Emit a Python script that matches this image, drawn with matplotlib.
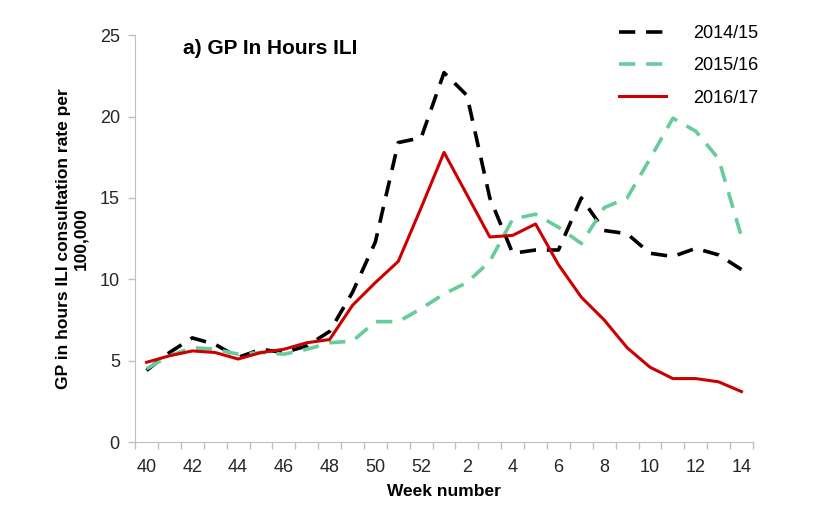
import matplotlib
matplotlib.use("Agg")
import matplotlib.pyplot as plt
import numpy as np

plt.rcParams["font.family"] = ["Liberation Sans", "DejaVu Sans"]

# Weeks 40-52 then 1-14
weeks = list(range(40, 53)) + list(range(1, 15))

season_1415 = [4.4, 5.5, 6.4, 6.0, 5.2, 5.7, 5.5, 5.9, 6.8, 9.2, 12.3, 18.4, 18.7,
               22.7, 21.3, 15.0, 11.6, 11.8, 11.8, 15.0, 13.0, 12.8, 11.6, 11.4,
               11.9, 11.5, 10.6]
season_1516 = [4.5, 5.3, 5.8, 5.7, 5.4, 5.5, 5.4, 5.7, 6.1, 6.2, 7.4, 7.4, 8.2,
               9.1, 9.8, 11.1, 13.7, 14.0, 13.2, 12.2, 14.4, 15.0, 17.4, 19.9,
               19.1, 17.4, 12.6]
season_1617 = [4.9, 5.3, 5.6, 5.5, 5.1, 5.5, 5.7, 6.1, 6.3, 8.4, 9.8, 11.1, 14.4,
               17.8, 15.2, 12.6, 12.7, 13.4, 10.9, 8.9, 7.5, 5.8, 4.6, 3.9, 3.9,
               3.7, 3.1]

labels = ["2014/15", "2015/16", "2016/17"]

fig = plt.figure(figsize=(8.14, 5.25), dpi=100)
ax = fig.add_axes([0.166, 0.158, 0.759, 0.775])

x = np.arange(len(weeks))
ax.plot(x, season_1415, color="black", lw=2.6, ls=(0, (4.5, 3)), label=labels[0])
ax.plot(x, season_1516, color="#66cc99", lw=2.6, ls=(0, (4.5, 3)), label=labels[1])
ax.plot(x, season_1617, color="#cc0000", lw=2.2, label=labels[2])

ax.set_xlim(-0.5, len(weeks) - 0.5)
ax.set_ylim(0, 25)
ax.set_yticks(range(0, 26, 5))

# category axis: ticks between categories, labels every second week
ax.set_xticks(np.arange(-0.5, len(weeks)), [""] * (len(weeks) + 1))
ax.set_xticks(x[::2], [str(w) for w in weeks[::2]], minor=True)
ax.tick_params(axis="x", which="major", length=5, color="#bfbfbf", width=1)
ax.tick_params(axis="x", which="minor", length=0, pad=12, labelsize=13, labelcolor="#262626")
ax.tick_params(axis="y", length=5, color="#bfbfbf", width=1, labelsize=13,
               labelcolor="#262626", pad=6)

for side in ["top", "right"]:
    ax.spines[side].set_visible(False)
for side in ["left", "bottom"]:
    ax.spines[side].set_color("#bfbfbf")

ax.set_xlabel("Week number", fontsize=12.5, fontweight="bold", labelpad=6)
ax.set_ylabel("GP in hours ILI consultation rate per\n100,000", fontsize=12.5,
              fontweight="bold", labelpad=8, linespacing=1.25)

ax.text(0.078, 0.99, "a) GP In Hours ILI", transform=ax.transAxes, fontsize=15,
        fontweight="bold", va="top", ha="left")

ax.legend(loc="upper right", bbox_to_anchor=(1.035, 1.065), frameon=False,
          fontsize=13, handlelength=2.6, labelspacing=0.85, handletextpad=1.5)

fig.savefig("out.png", dpi=100)
